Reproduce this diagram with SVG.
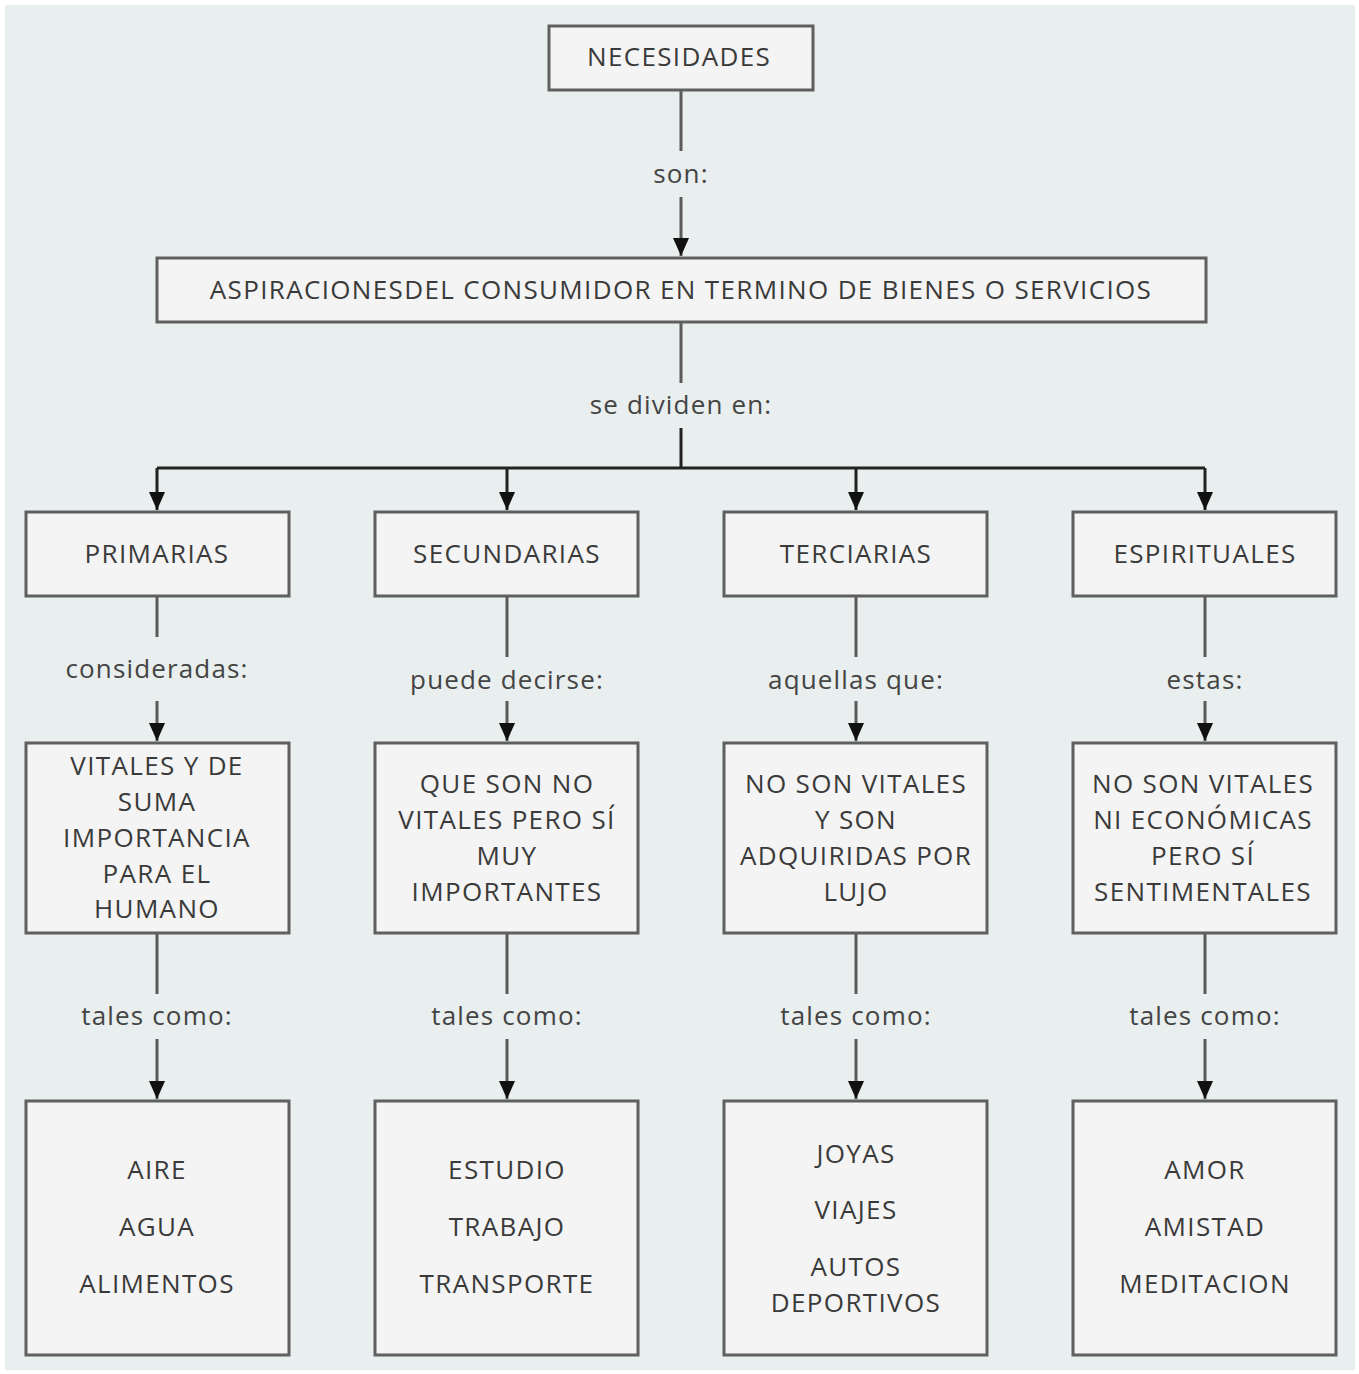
<svg xmlns="http://www.w3.org/2000/svg" width="1359" height="1374" viewBox="0 0 1359 1374">
<style>
.box{fill:#f4f4f4;stroke:#5f5f5f;stroke-width:3}
.t{font-family:"Open Sans","Noto Sans","DejaVu Sans",sans-serif;font-size:26px;fill:#3a3a3a;text-anchor:middle;letter-spacing:1.35px}
.lbl{font-family:"Open Sans","Noto Sans","DejaVu Sans",sans-serif;font-size:26px;fill:#444;text-anchor:middle;letter-spacing:1.15px}
.ln{stroke:#5a5a5a;stroke-width:3;fill:none}
.dk{stroke:#222;stroke-width:3;fill:none}
</style>
<defs>
<marker id="ah" markerUnits="userSpaceOnUse" markerWidth="16" markerHeight="18" viewBox="0 0 16 18" refX="8" refY="18" orient="0">
<path d="M0,0 L16,0 L8,18 z" fill="#111"/>
</marker>
</defs>
<rect x="0" y="0" width="1359" height="1374" fill="#ffffff"/>
<rect x="5" y="5" width="1350" height="1365" fill="#e9eeee"/>

<g id="connectors">
<path class="ln" d="M681,90 V151"/>
<path class="ln" d="M681,197 V256" marker-end="url(#ah)"/>
<path class="ln" d="M681,322 V383"/>
<path class="dk" d="M681,428 V468"/>
<path class="dk" d="M157,468 H1205"/>
<path class="dk" d="M157,468 V510" marker-end="url(#ah)"/>
<path class="dk" d="M507,468 V510" marker-end="url(#ah)"/>
<path class="dk" d="M856,468 V510" marker-end="url(#ah)"/>
<path class="dk" d="M1205,468 V510" marker-end="url(#ah)"/>
<path class="ln" d="M157,596 V637"/>
<path class="ln" d="M157,701 V741" marker-end="url(#ah)"/>
<path class="ln" d="M507,596 V657"/>
<path class="ln" d="M507,701 V741" marker-end="url(#ah)"/>
<path class="ln" d="M856,596 V657"/>
<path class="ln" d="M856,701 V741" marker-end="url(#ah)"/>
<path class="ln" d="M1205,596 V657"/>
<path class="ln" d="M1205,701 V741" marker-end="url(#ah)"/>
<path class="ln" d="M157,933 V994"/>
<path class="ln" d="M157,1039 V1099" marker-end="url(#ah)"/>
<path class="ln" d="M507,933 V994"/>
<path class="ln" d="M507,1039 V1099" marker-end="url(#ah)"/>
<path class="ln" d="M856,933 V994"/>
<path class="ln" d="M856,1039 V1099" marker-end="url(#ah)"/>
<path class="ln" d="M1205,933 V994"/>
<path class="ln" d="M1205,1039 V1099" marker-end="url(#ah)"/>
</g>

<g id="labels">
<text class="lbl" x="681" y="183">son:</text>
<text class="lbl" x="681" y="414">se dividen en:</text>
<text class="lbl" x="157" y="678">consideradas:</text>
<text class="lbl" x="507" y="689">puede decirse:</text>
<text class="lbl" x="856" y="689">aquellas que:</text>
<text class="lbl" x="1205" y="689">estas:</text>
<text class="lbl" x="157" y="1025">tales como:</text>
<text class="lbl" x="507" y="1025">tales como:</text>
<text class="lbl" x="856" y="1025">tales como:</text>
<text class="lbl" x="1205" y="1025">tales como:</text>
</g>

<g id="necesidades"><rect class="box" x="549" y="26" width="264" height="64"/><text class="t" x="679" y="66">NECESIDADES</text></g>
<g id="aspiraciones"><rect class="box" x="157" y="258" width="1049" height="64"/><text class="t" x="681" y="299">ASPIRACIONESDEL CONSUMIDOR EN TERMINO DE BIENES O SERVICIOS</text></g>

<g id="primarias"><rect class="box" x="26" y="512" width="263" height="84"/><text class="t" x="157" y="563">PRIMARIAS</text></g>
<g id="secundarias"><rect class="box" x="375" y="512" width="263" height="84"/><text class="t" x="507" y="563">SECUNDARIAS</text></g>
<g id="terciarias"><rect class="box" x="724" y="512" width="263" height="84"/><text class="t" x="856" y="563">TERCIARIAS</text></g>
<g id="espirituales"><rect class="box" x="1073" y="512" width="263" height="84"/><text class="t" x="1205" y="563">ESPIRITUALES</text></g>

<g id="vitales"><rect class="box" x="26" y="743" width="263" height="190"/>
<text class="t" x="157" y="775">VITALES Y DE</text><text class="t" x="157" y="811">SUMA</text><text class="t" x="157" y="847">IMPORTANCIA</text><text class="t" x="157" y="883">PARA EL</text><text class="t" x="157" y="918">HUMANO</text></g>
<g id="novitales"><rect class="box" x="375" y="743" width="263" height="190"/>
<text class="t" x="507" y="793">QUE SON NO</text><text class="t" x="507" y="829">VITALES PERO SÍ</text><text class="t" x="507" y="865">MUY</text><text class="t" x="507" y="901">IMPORTANTES</text></g>
<g id="lujo"><rect class="box" x="724" y="743" width="263" height="190"/>
<text class="t" x="856" y="793">NO SON VITALES</text><text class="t" x="856" y="829">Y SON</text><text class="t" x="856" y="865">ADQUIRIDAS POR</text><text class="t" x="856" y="901">LUJO</text></g>
<g id="sentimentales"><rect class="box" x="1073" y="743" width="263" height="190"/>
<text class="t" x="1203" y="793">NO SON VITALES</text><text class="t" x="1203" y="829">NI ECONÓMICAS</text><text class="t" x="1203" y="865">PERO SÍ</text><text class="t" x="1203" y="901">SENTIMENTALES</text></g>

<g id="ej-primarias"><rect class="box" x="26" y="1101" width="263" height="254"/>
<text class="t" x="157" y="1179">AIRE</text><text class="t" x="157" y="1236">AGUA</text><text class="t" x="157" y="1293">ALIMENTOS</text></g>
<g id="ej-secundarias"><rect class="box" x="375" y="1101" width="263" height="254"/>
<text class="t" x="507" y="1179">ESTUDIO</text><text class="t" x="507" y="1236">TRABAJO</text><text class="t" x="507" y="1293">TRANSPORTE</text></g>
<g id="ej-terciarias"><rect class="box" x="724" y="1101" width="263" height="254"/>
<text class="t" x="856" y="1163">JOYAS</text><text class="t" x="856" y="1219">VIAJES</text><text class="t" x="856" y="1276">AUTOS</text><text class="t" x="856" y="1312">DEPORTIVOS</text></g>
<g id="ej-espirituales"><rect class="box" x="1073" y="1101" width="263" height="254"/>
<text class="t" x="1205" y="1179">AMOR</text><text class="t" x="1205" y="1236">AMISTAD</text><text class="t" x="1205" y="1293">MEDITACION</text></g>
</svg>
